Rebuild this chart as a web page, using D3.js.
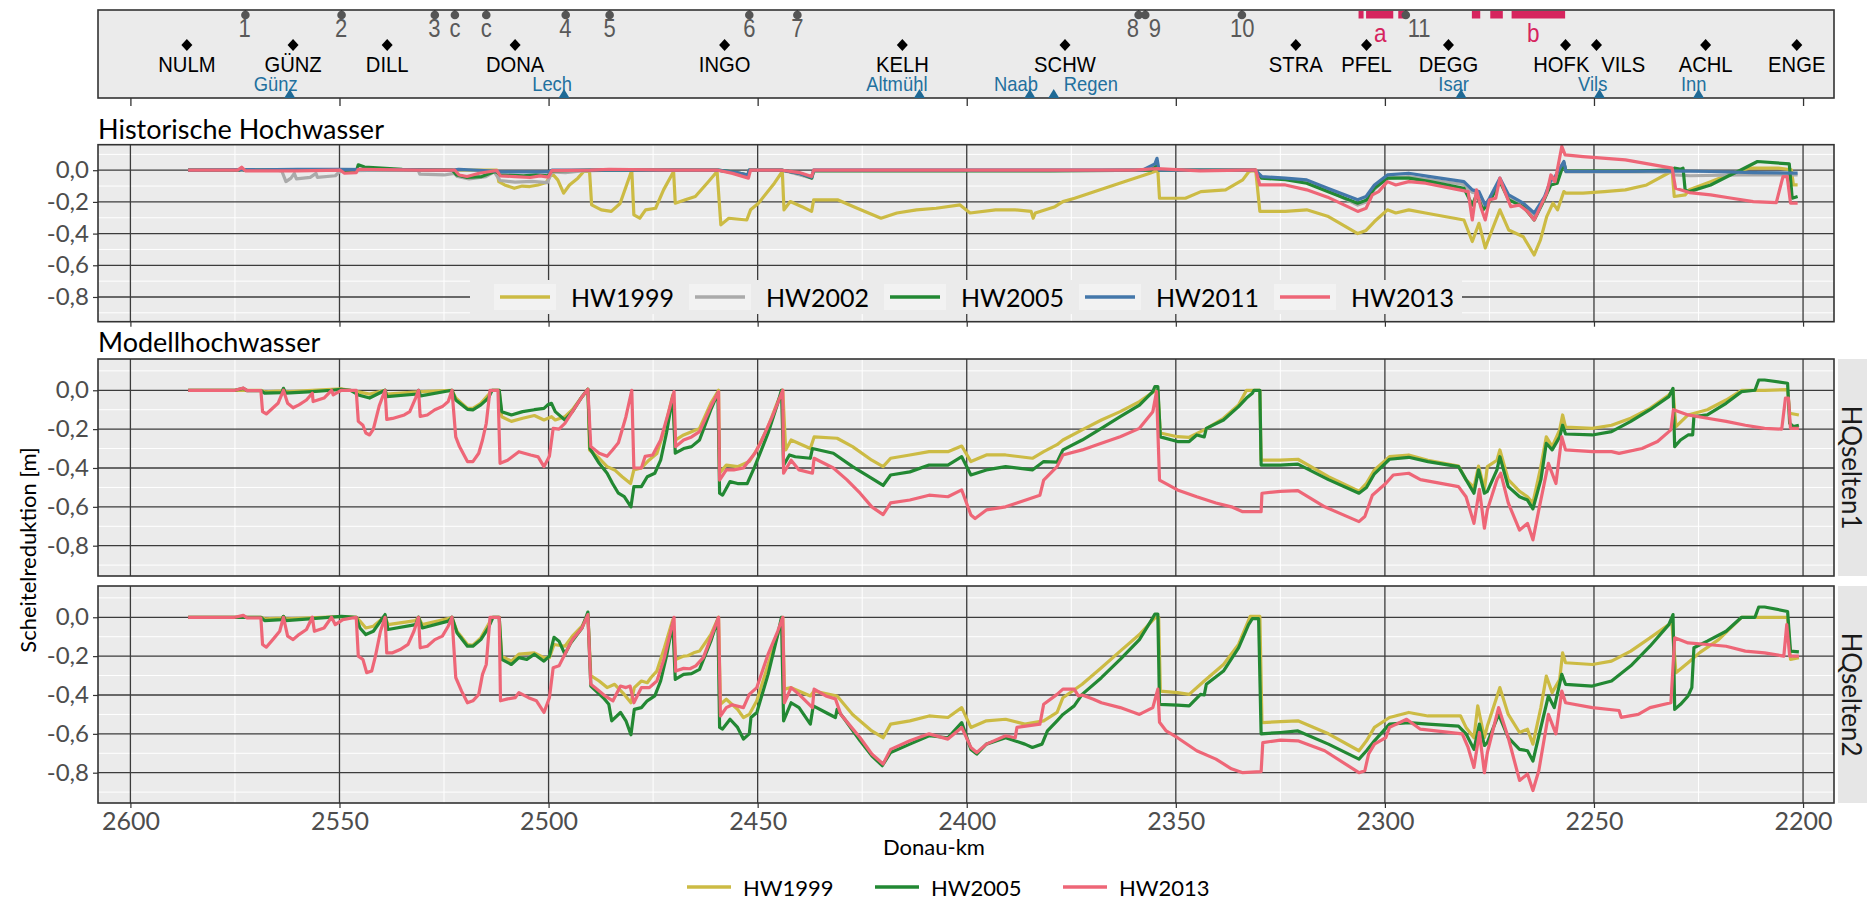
<!DOCTYPE html>
<html><head><meta charset="utf-8">
<script src="https://cdn.jsdelivr.net/npm/d3@7"></script>
<style>body{margin:0;background:#fff}svg{display:block}</style>
</head><body>
<svg id="c" width="1867" height="910"></svg>
<script>
// ---------------- DATA ----------------
const seriesNames = ["HW1999","HW2002","HW2005","HW2011","HW2013"];
const seriesColors = ["#CCBB44","#AAAAAA","#228833","#4477AA","#EE6677"];
const xTicks = [2600,2550,2500,2450,2400,2350,2300,2250,2200];
const xMinor = [2575,2525,2475,2425,2375,2325,2275,2225];
const yTicks = [0,-0.2,-0.4,-0.6,-0.8];
const yMinor = [0.1,-0.1,-0.3,-0.5,-0.7,-0.9];
const facetLabels = ["HQselten1","HQselten2"];

const stationNames = ["NULM","GÜNZ","DILL","DONA","INGO","KELH","SCHW","STRA","PFEL","DEGG","HOFK","VILS","ACHL","ENGE"];
const stationKm = [2586.5,2561.1,2538.6,2508.0,2457.9,2415.4,2376.5,2321.3,2304.4,2284.8,2256.8,2249.4,2223.3,2201.5];
const stationLabelKm = [2586.5,2561.1,2538.6,2508.0,2457.9,2415.4,2376.5,2321.3,2304.4,2284.8,2257.8,2243.0,2223.3,2201.5];
const tribNames = ["Günz","Lech","Altmühl","Naab","Regen","Isar","Vils","Inn"];
const tribKm = [2561.9,2496.3,2411.3,2384.9,2379.2,2281.8,2248.7,2225.0];
const tribSide = ["l","l","l","l","r","l","l","l"];
const markLabels = ["1","2","3","c","c","4","5","6","7","8","9","10","11"];
const markKm = [2572.5,2549.5,2527.2,2522.4,2514.9,2495.9,2485.4,2452.0,2440.5,2358.9,2357.3,2334.2,2295.0];
const markLabelKm = [2572.7,2549.6,2527.3,2522.4,2514.9,2496.0,2485.4,2452.0,2440.5,2360.3,2355.0,2334.1,2291.8];
const zoneLabels = ["a","b"];
const zoneLabelKm = [2301.1,2264.5];
const zoneA = [[2306.3,2305.1],[2304.5,2298.0],[2296.8,2294.9]];
const zoneB = [[2279.2,2277.2],[2274.8,2271.8],[2269.7,2256.9]];

// Historische Hochwasser
const h1999 = [[2586.2,0],[2512.4,0],[2511.9,-0.072],[2510.5,-0.093],[2508.2,-0.114],[2506.3,-0.1],[2504.5,-0.103],[2502.5,-0.093],[2500.6,-0.078],[2499.2,-0.02],[2497.8,-0.061],[2496.4,-0.145],[2495.0,-0.093],[2493.0,-0.05],[2491.6,-0.008],[2490.2,-0.008],[2489.7,-0.219],[2487.4,-0.25],[2485.0,-0.26],[2482.9,-0.21],[2480.5,-0.03],[2480.1,0],[2479.6,-0.282],[2478.2,-0.303],[2476.8,-0.25],[2474.4,-0.24],[2472.5,-0.124],[2470.1,-0.008],[2469.7,-0.208],[2467.3,-0.187],[2464.9,-0.166],[2462.1,-0.082],[2459.7,-0.008],[2458.8,-0.345],[2456.9,-0.303],[2452.6,-0.314],[2451.7,-0.25],[2449.8,-0.208],[2446.0,-0.082],[2444.1,-0.008],[2443.7,-0.25],[2442.2,-0.198],[2439.4,-0.23],[2437.1,-0.26],[2436.6,-0.187],[2430.9,-0.187],[2426.2,-0.24],[2420.5,-0.303],[2416.7,-0.27],[2412.0,-0.25],[2407.3,-0.24],[2401.6,-0.219],[2399.2,-0.27],[2393.1,-0.25],[2388.4,-0.25],[2384.6,-0.26],[2384.1,-0.303],[2383.6,-0.27],[2378.9,-0.23],[2377.0,-0.198],[2374.2,-0.177],[2364.7,-0.093],[2356.2,-0.019],[2354.3,0],[2353.9,-0.177],[2347.7,-0.177],[2344.0,-0.135],[2338.1,-0.124],[2334.0,-0.061],[2332.5,-0.008],[2330.9,0],[2329.9,-0.26],[2323.8,-0.26],[2318.7,-0.25],[2313.7,-0.29],[2306.5,-0.4],[2304.5,-0.38],[2302.5,-0.324],[2299.4,-0.25],[2297.4,-0.27],[2294.3,-0.25],[2290.3,-0.27],[2281.1,-0.314],[2279.1,-0.45],[2277.5,-0.335],[2276.0,-0.49],[2275.0,-0.42],[2272.5,-0.25],[2270.4,-0.377],[2266.9,-0.42],[2264.3,-0.535],[2262.8,-0.44],[2261.3,-0.293],[2259.8,-0.208],[2258.7,-0.25],[2257.2,-0.135],[2256.7,-0.145],[2252.6,-0.145],[2247.5,-0.135],[2242.5,-0.124],[2237.4,-0.093],[2232.3,-0.019],[2231.3,-0.008],[2230.8,-0.166],[2228.2,-0.156],[2227.2,-0.124],[2222.1,-0.072],[2217.0,-0.019],[2212.9,0.013],[2205.9,0.013],[2202.8,0.003],[2202.3,-0.093],[2201.3,-0.093]];
const h2002 = [[2586.2,0],[2565,0],[2563.8,-0.005],[2562.8,-0.072],[2561.6,-0.05],[2560.8,-0.02],[2560.3,-0.055],[2557,-0.045],[2555.6,-0.02],[2555.3,-0.045],[2551,-0.035],[2549.8,-0.005],[2540,0],[2531.2,0],[2530.8,-0.025],[2525,-0.03],[2522.5,-0.02],[2521.8,-0.04],[2519,-0.055],[2515,-0.04],[2513,-0.01],[2511.6,-0.065],[2508,-0.075],[2504,-0.07],[2500.3,-0.078],[2499.2,-0.01],[2496,-0.015],[2492,-0.005],[2485,0],[2459.5,0],[2452.5,-0.03],[2452,0],[2444,0],[2437,-0.05],[2436.6,0],[2356,0],[2354.5,0.05],[2354,0],[2331,0],[2329.5,-0.045],[2323.8,-0.055],[2318.7,-0.07],[2313.7,-0.125],[2306.5,-0.22],[2304.5,-0.2],[2302.5,-0.12],[2299.4,-0.05],[2294.3,-0.04],[2289.2,-0.06],[2281.1,-0.09],[2279.1,-0.14],[2277.5,-0.145],[2276,-0.23],[2275,-0.19],[2272.5,-0.06],[2270.4,-0.17],[2266.9,-0.22],[2264.3,-0.29],[2261.8,-0.18],[2260.3,-0.07],[2259.3,-0.06],[2257.2,0.05],[2256.7,-0.01],[2242,-0.01],[2231.3,-0.01],[2230.8,-0.03],[2227,-0.035],[2215,-0.03],[2205,-0.03],[2201.3,-0.03]];
const h2005 = [[2586.2,0],[2574,0],[2573.5,0.01],[2572.8,0],[2550,0],[2546,-0.01],[2545.5,0.034],[2544,0.02],[2535,0.005],[2523,0],[2522,-0.03],[2519.5,-0.045],[2516,-0.04],[2513,-0.01],[2512.5,-0.01],[2511.5,-0.03],[2506,-0.035],[2503,-0.03],[2500.2,-0.035],[2499.2,-0.005],[2490,0],[2459.5,0],[2456,-0.01],[2452.3,-0.03],[2452,0],[2444.1,0],[2440,-0.02],[2437.1,-0.05],[2436.6,-0.005],[2380,-0.005],[2356,0],[2354.6,0.025],[2353.9,0],[2331,0],[2329.5,-0.05],[2323.8,-0.06],[2318.7,-0.082],[2313.7,-0.135],[2306.5,-0.208],[2304.5,-0.19],[2302.5,-0.114],[2299.4,-0.05],[2294.3,-0.05],[2289.2,-0.072],[2281.1,-0.114],[2279.1,-0.22],[2278.1,-0.156],[2276.5,-0.25],[2275,-0.2],[2272.5,-0.072],[2270.4,-0.187],[2266.9,-0.23],[2264.3,-0.314],[2262.3,-0.208],[2260.3,-0.093],[2258.8,-0.082],[2257.2,0.044],[2256.7,-0.005],[2240,-0.005],[2231.3,0.002],[2230.8,0.013],[2229.2,0.006],[2228.7,0.013],[2228.2,-0.124],[2227.2,-0.135],[2222.1,-0.093],[2218.1,-0.04],[2215,0],[2210.9,0.055],[2203.3,0.04],[2202.6,-0.177],[2201.3,-0.166]];
const h2011 = [[2586.2,0],[2560,0.005],[2550,0.005],[2523,0],[2521.5,0.005],[2513,-0.005],[2511.5,-0.01],[2500,-0.01],[2499.2,0],[2459.5,0],[2455,-0.015],[2452.3,-0.03],[2452,0],[2444.1,0],[2440,-0.02],[2437.1,-0.045],[2436.6,0],[2358,0],[2355,0.04],[2354.5,0.075],[2354.1,0.01],[2353.9,0],[2331,0],[2329.4,-0.04],[2323.8,-0.05],[2318.7,-0.061],[2313.7,-0.114],[2306.5,-0.187],[2304.5,-0.166],[2302.5,-0.093],[2299.4,-0.03],[2294.3,-0.019],[2289.2,-0.04],[2281.1,-0.072],[2279.1,-0.124],[2277.5,-0.135],[2276,-0.22],[2275,-0.177],[2272.5,-0.05],[2270.4,-0.156],[2266.9,-0.208],[2264.3,-0.27],[2261.8,-0.166],[2260.3,-0.061],[2259.3,-0.04],[2257.2,0.055],[2256.7,-0.008],[2242.5,-0.008],[2232.3,-0.004],[2222,-0.008],[2211.9,-0.015],[2201.3,-0.019]];
const h2013 = [[2586.2,0],[2574.4,0],[2573.4,0.019],[2572.5,-0.004],[2560,-0.004],[2549.8,0],[2548.8,-0.019],[2546,-0.015],[2545.5,0.006],[2531,0],[2522.4,0],[2521.4,-0.03],[2519.5,-0.04],[2516.6,-0.019],[2512.4,-0.002],[2511.5,-0.036],[2508,-0.04],[2504.4,-0.046],[2502,-0.036],[2500.1,-0.044],[2499.2,-0.002],[2490,0],[2485.5,0.006],[2470,0],[2459.5,0],[2456,-0.02],[2452.2,-0.05],[2451.7,0],[2444.1,0],[2440,-0.015],[2437.1,-0.04],[2436.6,0],[2360,0],[2354.5,0.01],[2344.2,-0.004],[2330.9,0.002],[2329.9,-0.093],[2323.8,-0.093],[2318.7,-0.124],[2313.7,-0.17],[2306.5,-0.26],[2304.5,-0.24],[2303.0,-0.156],[2301.5,-0.135],[2299.4,-0.072],[2297.4,-0.093],[2294.3,-0.072],[2290.3,-0.082],[2280.1,-0.135],[2279.1,-0.314],[2278.1,-0.124],[2277.1,-0.23],[2276.0,-0.314],[2275.0,-0.187],[2273.5,-0.177],[2272.5,-0.05],[2271.5,-0.124],[2269.9,-0.23],[2267.9,-0.22],[2265.9,-0.26],[2264.3,-0.314],[2262.8,-0.23],[2261.3,-0.145],[2260.3,-0.03],[2259.3,-0.072],[2257.7,0.15],[2256.9,0.097],[2252.6,0.086],[2242.5,0.065],[2231.3,0.013],[2230.5,-0.114],[2227.2,-0.141],[2222.1,-0.156],[2217.0,-0.177],[2211.9,-0.198],[2206.4,-0.204],[2204.8,-0.04],[2203.8,-0.04],[2203.0,-0.208],[2201.3,-0.208]];

// Modellhochwasser HQselten1
const s1_1999 = [[2586.2,0],[2568.8,0],[2567.9,-0.008],[2563.8,-0.003],[2563.4,0.005],[2562.9,-0.008],[2556.5,0],[2549.6,0.007],[2545.5,-0.008],[2542.8,-0.02],[2539.1,0],[2538.7,-0.02],[2531.3,-0.008],[2523.1,0],[2522.2,-0.04],[2519.4,-0.093],[2518.1,-0.093],[2516.2,-0.067],[2514.4,-0.024],[2513.5,0],[2511.8,0],[2511.2,-0.136],[2508.9,-0.16],[2506.2,-0.144],[2503.4,-0.13],[2501.1,-0.153],[2499.3,-0.136],[2498.4,-0.153],[2496.1,-0.136],[2494.3,-0.1],[2492,-0.033],[2490.6,0.005],[2490.2,-0.307],[2487.9,-0.35],[2486,-0.393],[2484.2,-0.41],[2482.4,-0.445],[2480.4,-0.48],[2479.6,-0.41],[2477.8,-0.4],[2476,-0.36],[2474.1,-0.325],[2472.3,-0.204],[2470.3,-0.024],[2469.7,-0.256],[2467.7,-0.23],[2465.8,-0.213],[2463.9,-0.196],[2461.2,-0.067],[2459.35,0],[2459.1,-0.427],[2457.5,-0.385],[2454.8,-0.393],[2452,-0.367],[2450.2,-0.307],[2447.5,-0.187],[2445.2,-0.058],[2444,0],[2443.3,-0.307],[2442,-0.256],[2437.4,-0.3],[2436.5,-0.24],[2431,-0.247],[2427.3,-0.29],[2422.7,-0.36],[2420,-0.393],[2418.2,-0.35],[2413.6,-0.333],[2409,-0.316],[2404.5,-0.316],[2401.2,-0.287],[2399,-0.367],[2395.3,-0.333],[2390.7,-0.333],[2384.3,-0.35],[2381.6,-0.316],[2378.4,-0.28],[2377,-0.256],[2372.4,-0.204],[2367.8,-0.153],[2363.3,-0.11],[2358.7,-0.058],[2355,-0.003],[2354.3,0],[2353.7,-0.22],[2349.6,-0.239],[2346.8,-0.242],[2343.2,-0.204],[2338.6,-0.144],[2335,-0.076],[2333.1,0],[2329.9,0],[2329.6,-0.36],[2325,-0.36],[2320.8,-0.355],[2313.5,-0.445],[2306.2,-0.52],[2304.4,-0.479],[2302.5,-0.41],[2298.9,-0.342],[2294.3,-0.333],[2289.7,-0.36],[2282.4,-0.39],[2280.6,-0.46],[2278.7,-0.5],[2277.6,-0.39],[2276.2,-0.51],[2275.5,-0.393],[2273.2,-0.36],[2272.5,-0.307],[2270.5,-0.46],[2267.8,-0.52],[2265.9,-0.548],[2264.6,-0.58],[2262.7,-0.393],[2261.4,-0.24],[2260,-0.29],[2258.2,-0.204],[2257.5,-0.127],[2256.8,-0.19],[2250.4,-0.196],[2245.8,-0.18],[2241.2,-0.144],[2236.6,-0.093],[2232.1,-0.024],[2231.1,0],[2230.4,-0.187],[2227.5,-0.127],[2222.9,-0.1],[2218.4,-0.05],[2214.7,0],[2209.2,0],[2203.7,0.003],[2203.2,-0.118],[2201,-0.127]];
const s1_2005 = [[2586.2,0],[2575,0],[2573,0.01],[2572.1,-0.002],[2568.8,-0.002],[2567.9,-0.015],[2563.8,-0.012],[2563.4,0.01],[2562.9,-0.015],[2556.5,-0.007],[2551.9,0],[2549.6,0.005],[2547.3,0],[2545.5,-0.024],[2542.8,-0.04],[2539.1,0],[2538.7,-0.033],[2531.3,-0.019],[2531.1,0],[2530.6,-0.029],[2523.1,0],[2522.2,-0.05],[2519.4,-0.098],[2518.1,-0.101],[2516.2,-0.075],[2514.4,-0.04],[2513.5,0],[2511.8,0],[2511.2,-0.11],[2508.9,-0.127],[2506.2,-0.11],[2503.4,-0.1],[2501.1,-0.093],[2500.2,-0.075],[2499.3,-0.067],[2498.4,-0.11],[2496.1,-0.153],[2494.3,-0.11],[2492,-0.033],[2490.6,0.005],[2490.1,-0.3],[2487.9,-0.376],[2486,-0.427],[2484.7,-0.48],[2483.3,-0.53],[2481.9,-0.548],[2480.3,-0.6],[2479.6,-0.496],[2477.8,-0.496],[2476.4,-0.445],[2474.6,-0.427],[2473.2,-0.36],[2471.8,-0.22],[2470.3,-0.033],[2469.7,-0.324],[2467.7,-0.3],[2465.8,-0.29],[2463.9,-0.256],[2461.2,-0.1],[2459.5,-0.015],[2459.1,-0.53],[2458.4,-0.54],[2456.6,-0.47],[2454.8,-0.48],[2452.5,-0.48],[2450.7,-0.393],[2447.5,-0.22],[2445.2,-0.067],[2444.3,0],[2443.8,-0.386],[2442.4,-0.333],[2441,-0.342],[2437.4,-0.35],[2436.9,-0.3],[2431.9,-0.324],[2427.3,-0.393],[2422.7,-0.453],[2420,-0.49],[2418.2,-0.436],[2413.6,-0.42],[2409,-0.385],[2404.5,-0.385],[2401.2,-0.342],[2399,-0.436],[2395.3,-0.41],[2390.7,-0.393],[2384.3,-0.41],[2381.6,-0.367],[2378.4,-0.37],[2377,-0.307],[2372.4,-0.256],[2367.8,-0.196],[2363.3,-0.136],[2358.7,-0.076],[2355.5,-0.007],[2355,0.019],[2354.3,0.019],[2353.7,-0.24],[2349.6,-0.264],[2346.8,-0.264],[2345,-0.23],[2343.2,-0.24],[2342.7,-0.196],[2338.6,-0.153],[2335,-0.084],[2333.1,-0.04],[2331.7,-0.015],[2331.3,0],[2329.9,0],[2329.6,-0.385],[2325,-0.385],[2320.8,-0.38],[2313.5,-0.46],[2306.2,-0.53],[2304.4,-0.5],[2302.5,-0.43],[2298.9,-0.355],[2294.3,-0.345],[2289.7,-0.367],[2282.4,-0.393],[2280.6,-0.46],[2278.7,-0.53],[2277.6,-0.41],[2276.2,-0.53],[2275.5,-0.52],[2273.2,-0.41],[2272.5,-0.342],[2270.5,-0.496],[2267.8,-0.548],[2265.9,-0.565],[2264.6,-0.61],[2262.7,-0.46],[2261.4,-0.273],[2260,-0.307],[2258.2,-0.24],[2257.5,-0.18],[2256.8,-0.225],[2250.4,-0.23],[2245.8,-0.213],[2241.2,-0.16],[2236.6,-0.1],[2232.1,-0.033],[2231.1,0.01],[2230.7,-0.29],[2229.3,-0.256],[2227.5,-0.23],[2226.4,-0.23],[2226.1,-0.136],[2222.9,-0.127],[2218.4,-0.067],[2214.7,-0.007],[2211.5,0],[2210.6,0.053],[2209.2,0.053],[2203.7,0.036],[2203.2,-0.17],[2202.3,-0.187],[2201,-0.18]];
const s1_2013 = [[2586.2,0],[2575,0],[2573,0.012],[2572.1,-0.002],[2568.8,-0.002],[2568.4,-0.11],[2567.5,-0.122],[2564.7,-0.067],[2563.4,0],[2562.4,-0.067],[2561.1,-0.09],[2559.7,-0.075],[2557.9,-0.05],[2556.5,-0.015],[2556.3,-0.058],[2553.7,-0.04],[2551.9,0],[2551.5,-0.024],[2549.6,0],[2546,0],[2545.5,-0.16],[2544.4,-0.18],[2543.7,-0.22],[2542.8,-0.23],[2541.9,-0.2],[2540.5,-0.08],[2539.1,0],[2538.7,-0.15],[2537.3,-0.145],[2534.5,-0.127],[2533.2,-0.11],[2531.8,-0.04],[2531.1,0],[2530.7,-0.135],[2529,-0.127],[2527.2,-0.1],[2525.4,-0.084],[2524,-0.058],[2523.1,0],[2522.2,-0.24],[2521.3,-0.29],[2519.4,-0.367],[2518.1,-0.367],[2516.7,-0.324],[2515.8,-0.256],[2514.9,-0.17],[2514,0],[2512.1,0],[2511.6,-0.376],[2509.8,-0.36],[2507.1,-0.316],[2504.3,-0.333],[2502.5,-0.343],[2501.1,-0.393],[2499.8,-0.34],[2498.9,-0.196],[2497.5,-0.2],[2496.1,-0.17],[2494.3,-0.11],[2492,-0.033],[2490.6,0.005],[2489.9,-0.29],[2487.9,-0.324],[2486,-0.34],[2484.7,-0.307],[2483.3,-0.27],[2481.5,-0.136],[2480.1,0],[2479.6,-0.4],[2477.8,-0.4],[2476.9,-0.34],[2475.1,-0.333],[2473.2,-0.256],[2471.4,-0.12],[2470,-0.007],[2469.6,-0.29],[2467.7,-0.256],[2465.8,-0.24],[2463.9,-0.213],[2461.2,-0.084],[2459.35,-0.007],[2459.1,-0.462],[2457.5,-0.41],[2455.7,-0.41],[2453.4,-0.4],[2452,-0.36],[2450.7,-0.325],[2449.3,-0.27],[2446.5,-0.136],[2444,0],[2443.8,-0.427],[2442,-0.36],[2440.1,-0.41],[2436.9,-0.427],[2436.5,-0.35],[2431.9,-0.4],[2428.7,-0.46],[2425.5,-0.53],[2422.7,-0.6],[2420,-0.64],[2418.2,-0.58],[2413.6,-0.565],[2409,-0.54],[2404.5,-0.548],[2401.2,-0.513],[2399,-0.642],[2398,-0.66],[2395.3,-0.616],[2390.7,-0.6],[2388,-0.58],[2382.5,-0.54],[2381.6,-0.462],[2378.4,-0.393],[2377,-0.333],[2372.4,-0.307],[2367.8,-0.273],[2363.3,-0.239],[2358.7,-0.196],[2355.5,-0.11],[2354.6,-0.007],[2353.9,-0.462],[2349.6,-0.513],[2345,-0.548],[2340.4,-0.58],[2336.7,-0.6],[2334,-0.625],[2329.6,-0.625],[2329.4,-0.53],[2325,-0.52],[2320.8,-0.517],[2314.4,-0.6],[2306.2,-0.676],[2304.8,-0.65],[2303,-0.54],[2299.8,-0.48],[2298,-0.436],[2294.3,-0.427],[2291.5,-0.46],[2282.4,-0.496],[2280.6,-0.548],[2278.7,-0.685],[2277.4,-0.51],[2276.2,-0.71],[2275.5,-0.616],[2273.2,-0.46],[2272.3,-0.427],[2270.5,-0.58],[2267.8,-0.72],[2265.9,-0.685],[2264.6,-0.77],[2263.2,-0.616],[2260.9,-0.376],[2259.1,-0.48],[2257.7,-0.24],[2256.8,-0.307],[2250.4,-0.316],[2245.8,-0.316],[2244,-0.325],[2238.5,-0.3],[2234.8,-0.264],[2231.6,-0.204],[2231,-0.1],[2227.5,-0.127],[2222.9,-0.144],[2218.4,-0.16],[2213.8,-0.18],[2209.2,-0.196],[2205.1,-0.2],[2204.2,-0.04],[2203.5,-0.04],[2203,-0.196],[2201,-0.196]];

// Modellhochwasser HQselten2
const s2_1999 = [[2586.2,0],[2568.8,0],[2567.9,-0.008],[2563.8,-0.004],[2563.4,0.004],[2562.9,-0.008],[2549.6,0.004],[2546,0],[2545.1,-0.02],[2543.7,-0.055],[2541.9,-0.046],[2539.1,0.005],[2538.4,-0.038],[2531.8,-0.017],[2531.1,0],[2530.2,-0.038],[2524,-0.007],[2523.1,0],[2521.9,-0.072],[2519.4,-0.14],[2518.1,-0.144],[2516.2,-0.106],[2514.4,-0.038],[2513.5,0],[2511.8,0],[2511.2,-0.2],[2508.9,-0.226],[2507.1,-0.19],[2503.4,-0.183],[2501.1,-0.208],[2499.8,-0.208],[2498.7,-0.14],[2496.1,-0.149],[2494.3,-0.097],[2492,-0.046],[2490.6,0.014],[2489.9,-0.3],[2487.9,-0.328],[2486,-0.362],[2484.2,-0.345],[2481.9,-0.397],[2480.3,-0.44],[2479.5,-0.362],[2477.8,-0.328],[2476.4,-0.337],[2475.5,-0.31],[2474.1,-0.277],[2472.3,-0.157],[2470.3,-0.012],[2469.6,-0.217],[2467.7,-0.2],[2466.7,-0.198],[2465.3,-0.183],[2463.9,-0.174],[2461.2,-0.089],[2459.35,0],[2458.9,-0.448],[2457.5,-0.422],[2454.8,-0.474],[2453.4,-0.516],[2452,-0.5],[2450.2,-0.43],[2447.5,-0.243],[2445.2,-0.089],[2444,0],[2443.6,-0.37],[2442,-0.362],[2437.4,-0.405],[2436.5,-0.38],[2431,-0.405],[2427.3,-0.5],[2422.7,-0.585],[2420,-0.62],[2418.2,-0.55],[2413.6,-0.533],[2409,-0.508],[2404.5,-0.516],[2401.2,-0.465],[2399,-0.567],[2395.3,-0.533],[2390.7,-0.525],[2386.1,-0.55],[2381.6,-0.533],[2378.4,-0.49],[2377,-0.414],[2372.4,-0.345],[2367.8,-0.26],[2363.3,-0.174],[2358.7,-0.089],[2355,-0.003],[2354.1,0],[2353.7,-0.38],[2349.6,-0.388],[2346.8,-0.397],[2343.2,-0.328],[2338.6,-0.243],[2335,-0.14],[2332.2,0.005],[2329.9,0.005],[2329.4,-0.542],[2325,-0.537],[2320.8,-0.533],[2313.5,-0.6],[2306.2,-0.687],[2304.4,-0.636],[2302.5,-0.567],[2298.9,-0.516],[2294.3,-0.49],[2289.7,-0.508],[2281.9,-0.508],[2280.6,-0.567],[2278.7,-0.62],[2277.8,-0.456],[2276.2,-0.62],[2275.5,-0.56],[2272.5,-0.362],[2270.5,-0.5],[2267.8,-0.593],[2265.9,-0.576],[2264.6,-0.653],[2262.7,-0.465],[2261.4,-0.303],[2260,-0.388],[2258.2,-0.32],[2257.5,-0.183],[2256.8,-0.234],[2250.4,-0.243],[2245.8,-0.226],[2241.2,-0.174],[2236.6,-0.106],[2232.1,-0.038],[2231.4,-0.02],[2230.4,-0.285],[2227.5,-0.234],[2224.8,-0.183],[2220.2,-0.115],[2214.7,0],[2203.7,0],[2203,-0.217],[2201,-0.208]];
const s2_2005 = [[2586.2,0],[2568.8,0],[2567.9,-0.017],[2563.8,-0.012],[2563.4,0.005],[2562.9,-0.017],[2556.5,-0.007],[2549.6,0.005],[2546,0],[2545.1,-0.055],[2543.7,-0.089],[2541.9,-0.072],[2539.1,0.014],[2538.4,-0.063],[2531.8,-0.038],[2531.1,0],[2530.2,-0.055],[2524,-0.02],[2523.1,0],[2521.9,-0.08],[2519.4,-0.149],[2518.1,-0.149],[2516.2,-0.115],[2514.4,-0.055],[2513.3,0],[2511.8,0],[2511.2,-0.217],[2508.9,-0.243],[2507.1,-0.208],[2505.2,-0.217],[2503.4,-0.19],[2501.1,-0.226],[2499.8,-0.2],[2498.7,-0.103],[2497.5,-0.123],[2496.1,-0.19],[2494.7,-0.132],[2492,-0.055],[2490.6,0.027],[2489.9,-0.354],[2486.9,-0.414],[2485.6,-0.448],[2484.9,-0.533],[2482.8,-0.49],[2481.5,-0.533],[2480.3,-0.605],[2479.5,-0.474],[2477.8,-0.465],[2476.4,-0.43],[2474.6,-0.405],[2473.2,-0.328],[2471.8,-0.2],[2470.3,-0.03],[2469.7,-0.32],[2467.7,-0.294],[2465.8,-0.29],[2463.9,-0.268],[2461.2,-0.123],[2459.5,-0.012],[2459.1,-0.567],[2458.4,-0.575],[2456.6,-0.525],[2454.8,-0.567],[2453.4,-0.627],[2452,-0.6],[2451.6,-0.516],[2450.2,-0.49],[2447.5,-0.294],[2445.2,-0.089],[2444.3,0],[2443.8,-0.533],[2442,-0.44],[2440.1,-0.465],[2437.4,-0.55],[2436.7,-0.456],[2433.7,-0.49],[2431.4,-0.516],[2431,-0.474],[2429.2,-0.525],[2425.5,-0.636],[2422.7,-0.713],[2420.2,-0.764],[2418.2,-0.696],[2413.6,-0.653],[2409,-0.61],[2404.5,-0.62],[2401.2,-0.542],[2399,-0.68],[2397.6,-0.704],[2395.3,-0.653],[2390.7,-0.62],[2386.1,-0.653],[2384.3,-0.67],[2382,-0.653],[2380.7,-0.585],[2378.4,-0.533],[2377,-0.5],[2374.3,-0.456],[2372.4,-0.397],[2367.8,-0.311],[2363.3,-0.217],[2358.7,-0.115],[2355.5,-0.003],[2355,0.017],[2354.3,0.017],[2353.9,-0.448],[2349.6,-0.452],[2346.8,-0.456],[2344.1,-0.397],[2343.2,-0.4],[2342.7,-0.345],[2338.6,-0.277],[2335,-0.157],[2332.6,-0.038],[2331.7,-0.007],[2330.2,-0.007],[2329.6,-0.6],[2325,-0.593],[2320.8,-0.585],[2313.5,-0.653],[2306.2,-0.73],[2304.4,-0.687],[2302.5,-0.636],[2298.9,-0.55],[2294.3,-0.542],[2289.7,-0.55],[2282.4,-0.56],[2280.6,-0.6],[2278.7,-0.68],[2277.4,-0.55],[2276.2,-0.66],[2275.5,-0.645],[2272.8,-0.5],[2270.5,-0.62],[2267.8,-0.68],[2265.9,-0.687],[2264.6,-0.74],[2262.7,-0.567],[2260.9,-0.405],[2259.5,-0.465],[2257.7,-0.294],[2256.8,-0.345],[2250.4,-0.354],[2245.8,-0.328],[2241.2,-0.25],[2236.6,-0.149],[2232.1,-0.038],[2231.1,0.014],[2230.7,-0.474],[2229.3,-0.448],[2227.5,-0.405],[2226.6,-0.362],[2226.1,-0.157],[2222.9,-0.123],[2218.4,-0.072],[2214.7,0],[2211.5,0],[2210.6,0.053],[2209.2,0.053],[2203.7,0.03],[2203,-0.174],[2201,-0.178]];
const s2_2013 = [[2586.2,0],[2575,0],[2573,0.01],[2572.1,-0.003],[2568.8,-0.003],[2568.4,-0.14],[2567.5,-0.154],[2565.6,-0.106],[2564.3,-0.072],[2563.4,0],[2562.4,-0.097],[2561.1,-0.115],[2559.7,-0.089],[2557.9,-0.063],[2556.5,0],[2556,-0.072],[2553.7,-0.055],[2551.9,0],[2551,-0.038],[2549.2,-0.012],[2546,0],[2545.5,-0.2],[2544.4,-0.217],[2543.5,-0.285],[2542.3,-0.277],[2541.4,-0.2],[2540.2,-0.072],[2539.1,0],[2538.7,-0.183],[2537.3,-0.183],[2535.5,-0.166],[2533.6,-0.14],[2532.2,-0.072],[2531.1,0],[2530.7,-0.157],[2529,-0.149],[2527.2,-0.115],[2525.4,-0.097],[2524,-0.046],[2523.1,0],[2522.2,-0.31],[2520.8,-0.38],[2519.4,-0.44],[2518.1,-0.43],[2516.7,-0.397],[2515.8,-0.294],[2514.9,-0.243],[2514,0],[2511.8,0],[2511.5,-0.43],[2509.8,-0.42],[2508,-0.414],[2507.1,-0.388],[2504.8,-0.414],[2502.9,-0.43],[2501.1,-0.49],[2499.8,-0.414],[2498.9,-0.26],[2497.5,-0.25],[2496.1,-0.19],[2494.3,-0.115],[2492,-0.055],[2490.6,0.014],[2489.9,-0.345],[2487.9,-0.38],[2486.5,-0.405],[2484.6,-0.43],[2482.8,-0.354],[2481.5,-0.362],[2480.5,-0.354],[2479.6,-0.44],[2477.8,-0.362],[2475.9,-0.362],[2474.1,-0.328],[2472.3,-0.208],[2470,0],[2469.6,-0.277],[2467.7,-0.263],[2466.2,-0.265],[2464.8,-0.25],[2463,-0.208],[2461.2,-0.106],[2459.35,0],[2458.9,-0.508],[2457.5,-0.465],[2456.1,-0.45],[2453.4,-0.465],[2452,-0.397],[2450.2,-0.362],[2447.5,-0.19],[2445.2,-0.072],[2444,0],[2443.6,-0.44],[2442,-0.362],[2440.1,-0.397],[2436.9,-0.465],[2436.5,-0.37],[2433.7,-0.405],[2431.4,-0.42],[2430.1,-0.5],[2428.2,-0.55],[2425.5,-0.62],[2422.7,-0.704],[2420,-0.755],[2418.2,-0.68],[2413.6,-0.636],[2409,-0.6],[2404.5,-0.627],[2401.2,-0.567],[2399,-0.67],[2397.6,-0.696],[2395.3,-0.653],[2390.7,-0.61],[2388.4,-0.62],[2388,-0.567],[2382.5,-0.55],[2381.6,-0.448],[2378.4,-0.397],[2377,-0.37],[2374.3,-0.37],[2373.3,-0.405],[2372.4,-0.4],[2369.7,-0.422],[2367.8,-0.44],[2363.3,-0.465],[2358.7,-0.5],[2355.5,-0.465],[2354.3,-0.37],[2353.9,-0.54],[2352.3,-0.585],[2349.6,-0.62],[2345,-0.687],[2340.4,-0.73],[2336.7,-0.78],[2334,-0.8],[2329.6,-0.795],[2329.2,-0.645],[2325,-0.632],[2320.8,-0.636],[2314.4,-0.687],[2306.2,-0.8],[2304.8,-0.79],[2303.9,-0.704],[2302.5,-0.653],[2299.8,-0.62],[2298.9,-0.567],[2294.8,-0.525],[2291.5,-0.576],[2281.5,-0.6],[2280.1,-0.67],[2278.7,-0.773],[2277.4,-0.593],[2276.2,-0.8],[2275.5,-0.696],[2272.8,-0.465],[2270.5,-0.62],[2267.8,-0.84],[2265.9,-0.807],[2264.6,-0.892],[2263.2,-0.79],[2260.9,-0.5],[2259.1,-0.6],[2257.7,-0.38],[2256.8,-0.44],[2250.4,-0.465],[2244,-0.48],[2243.5,-0.515],[2239.4,-0.5],[2236.6,-0.465],[2231.6,-0.44],[2230.7,-0.106],[2227.5,-0.132],[2222.9,-0.14],[2218.4,-0.149],[2213.8,-0.174],[2209.2,-0.183],[2204.6,-0.2],[2203.9,-0.038],[2203.2,-0.2],[2201,-0.2]];

// ---------------- DRAWING ----------------
const FONT = "Lato, 'Open Sans', sans-serif";
const NFONT = "'Liberation Sans', Arial, sans-serif";
const svg = d3.select("#c");
const X0 = 98, X1 = 1834;
const x = d3.scaleLinear().domain([2607.75, 2192.6]).range([X0, X1]);
const yDomain = [-0.956, 0.161];
const fmt = d => (d < 0 ? "-" : "") + Math.abs(d).toFixed(1).replace(".", ",");

const defs = svg.append("defs");

function panel(top, bottom, series, colorIdx, id, opts) {
  const y = d3.scaleLinear().domain(yDomain).range([bottom, top]);
  const g = svg.append("g");
  g.append("rect").attr("x", X0).attr("y", top).attr("width", X1 - X0).attr("height", bottom - top).attr("fill", "#EBEBEB");
  g.selectAll(".vmin").data(xMinor).join("line").attr("x1", d => x(d)).attr("x2", d => x(d)).attr("y1", top).attr("y2", bottom).attr("stroke", "#fff").attr("stroke-width", 1);
  g.selectAll(".hmin").data(yMinor).join("line").attr("x1", X0).attr("x2", X1).attr("y1", d => y(d)).attr("y2", d => y(d)).attr("stroke", "#fff").attr("stroke-width", 1);
  g.selectAll(".vmaj").data(xTicks).join("line").attr("x1", d => x(d)).attr("x2", d => x(d)).attr("y1", top).attr("y2", bottom).attr("stroke", "#3c3c3c").attr("stroke-width", 1.3);
  g.selectAll(".hmaj").data(yTicks).join("line").attr("x1", X0).attr("x2", X1).attr("y1", d => y(d)).attr("y2", d => y(d)).attr("stroke", "#3c3c3c").attr("stroke-width", 1.3);
  defs.append("clipPath").attr("id", id).append("rect").attr("x", X0).attr("y", top).attr("width", X1 - X0).attr("height", bottom - top);
  const line = d3.line().x(d => x(d[0])).y(d => y(d[1]));
  const lg = g.append("g").attr("clip-path", `url(#${id})`);
  series.forEach((s, i) => {
    lg.append("path").attr("d", line(s)).attr("fill", "none").attr("stroke", seriesColors[colorIdx[i]]).attr("stroke-width", 3.2).attr("stroke-linejoin", "round");
  });
  if (opts.legend) opts.legend(g, y);
  g.append("rect").attr("x", X0).attr("y", top).attr("width", X1 - X0).attr("height", bottom - top).attr("fill", "none").attr("stroke", "#333").attr("stroke-width", 1.6);
  const ya = g.append("g").attr("transform", `translate(${X0},0)`).call(d3.axisLeft(y).tickValues(yTicks).tickSize(5).tickPadding(4).tickFormat(fmt));
  ya.select(".domain").remove();
  ya.selectAll("line").attr("stroke", "#333").attr("stroke-width", 1.2);
  ya.selectAll("text").attr("font-family", FONT).attr("font-size", 24).attr("fill", "#4D4D4D");
  if (opts.xticks) {
    const xa = g.append("g").attr("transform", `translate(0,${bottom})`).call(d3.axisBottom(x).tickValues(xTicks).tickSize(5).tickPadding(4).tickFormat(opts.xlabels ? d3.format("d") : ""));
    xa.select(".domain").remove();
    xa.selectAll("line").attr("stroke", "#333").attr("stroke-width", 1.2);
    xa.selectAll("text").attr("font-family", FONT).attr("font-size", 25).attr("fill", "#4D4D4D");
  }
  if (opts.strip) {
    g.append("rect").attr("x", 1838).attr("y", top).attr("width", 29).attr("height", bottom - top).attr("fill", "#E6E6E6");
    g.append("text").attr("transform", `translate(1852,${(top + bottom) / 2}) rotate(90)`).attr("text-anchor", "middle").attr("dominant-baseline", "central")
      .attr("font-family", FONT).attr("font-size", 26).attr("fill", "#1A1A1A").text(opts.strip);
  }
  return y;
}

// ---- top strip ----
const TS0 = 10, TS1 = 98;
svg.append("rect").attr("x", X0).attr("y", TS0).attr("width", X1 - X0).attr("height", TS1 - TS0).attr("fill", "#EBEBEB");
const ta = svg.append("g").attr("transform", `translate(0,${TS1})`).call(d3.axisBottom(x).tickValues(xTicks).tickSize(8).tickFormat(""));
ta.select(".domain").remove();
ta.selectAll("line").attr("stroke", "#333").attr("stroke-width", 1.3);
// red zones
svg.selectAll(".za").data(zoneA.concat(zoneB)).join("rect")
  .attr("x", d => x(d[0])).attr("width", d => x(d[1]) - x(d[0])).attr("y", 11).attr("height", 7.5).attr("fill", "#D6245E");
svg.selectAll(".zl").data(zoneLabels).join("text")
  .attr("transform", (d, i) => `translate(${x(zoneLabelKm[i])},42) scale(0.9,1)`)
  .attr("text-anchor", "middle").attr("font-family", NFONT).attr("font-size", 25).attr("fill", "#D6245E").text(d => d);
// numbered points
svg.selectAll(".mstem").data(markKm).join("line").attr("x1", d => x(d)).attr("x2", d => x(d)).attr("y1", TS0).attr("y2", 15).attr("stroke", "#555").attr("stroke-width", 1.5);
svg.selectAll(".mdot").data(markKm).join("circle").attr("cx", d => x(d)).attr("cy", 15).attr("r", 4.3).attr("fill", "#555");
svg.selectAll(".mlab").data(markLabels).join("text")
  .attr("transform", (d, i) => `translate(${x(markLabelKm[i])},37) scale(0.88,1)`)
  .attr("text-anchor", "middle").attr("font-family", NFONT).attr("font-size", 25).attr("fill", "#595959").text(d => d);
// stations
const diamond = "M0,-6L5.5,0L0,6L-5.5,0Z";
svg.selectAll(".sd").data(stationKm).join("path").attr("d", diamond).attr("transform", d => `translate(${x(d)},45)`).attr("fill", "#000");
svg.selectAll(".sl").data(stationNames).join("text")
  .attr("transform", (d, i) => `translate(${x(stationLabelKm[i])},72) scale(0.92,1)`)
  .attr("text-anchor", "middle").attr("font-family", NFONT).attr("font-size", 22).attr("fill", "#000").text(d => d);
// tributaries
const tri = "M-5.5,0L5.5,0L0,-9Z";
svg.selectAll(".tl").data(tribNames).join("text")
  .attr("transform", (d, i) => `translate(${tribSide[i] === "r" ? x(tribKm[i]) + 10 : x(tribKm[i]) + 8},91) scale(0.92,1)`)
  .attr("text-anchor", (d, i) => tribSide[i] === "r" ? "start" : "end")
  .attr("font-family", NFONT).attr("font-size", 20).attr("fill", "#22709E").text(d => d);
svg.append("rect").attr("x", X0).attr("y", TS0).attr("width", X1 - X0).attr("height", TS1 - TS0).attr("fill", "none").attr("stroke", "#333").attr("stroke-width", 1.6);
svg.selectAll(".tt").data(tribKm).join("path").attr("d", tri).attr("transform", d => `translate(${x(d)},${TS1})`).attr("fill", "#1F6A96");

// ---- panel 1 ----
svg.append("text").attr("x", X0).attr("y", 139).attr("font-family", FONT).attr("font-size", 27).attr("fill", "#000").text("Historische Hochwasser");
panel(144.7, 321.7, [h1999, h2002, h2005, h2011, h2013], [0, 1, 2, 3, 4], "cp1", {
  xticks: true, xlabels: false,
  legend: (g, y) => {
    const lg = g.append("g");
    lg.append("rect").attr("x", 470).attr("y", 280).attr("width", 992).attr("height", 34).attr("fill", "#EBEBEB");
    seriesNames.forEach((n, i) => {
      const kx = 494 + i * 195;
      lg.append("rect").attr("x", kx).attr("y", 284).attr("width", 62).attr("height", 26).attr("fill", "#F2F2F2");
      lg.append("line").attr("x1", kx + 6).attr("x2", kx + 56).attr("y1", 297).attr("y2", 297).attr("stroke", seriesColors[i]).attr("stroke-width", 3.5);
      lg.append("text").attr("x", kx + 77).attr("y", 297).attr("dominant-baseline", "central").attr("font-family", FONT).attr("font-size", 25).attr("fill", "#000").text(n);
    });
  }
});

// ---- panels 2, 3 ----
svg.append("text").attr("x", X0).attr("y", 352).attr("font-family", FONT).attr("font-size", 27).attr("fill", "#000").text("Modellhochwasser");
panel(359, 576, [s1_1999, s1_2005, s1_2013], [0, 2, 4], "cp2", { strip: facetLabels[0] });
panel(586, 803, [s2_1999, s2_2005, s2_2013], [0, 2, 4], "cp3", { strip: facetLabels[1], xticks: true, xlabels: true });

// axis titles
svg.append("text").attr("x", 934).attr("y", 855).attr("text-anchor", "middle").attr("font-family", FONT).attr("font-size", 22).attr("fill", "#000").text("Donau-km");
svg.append("text").attr("transform", "translate(27,550) rotate(-90)").attr("text-anchor", "middle").attr("dominant-baseline", "central").attr("font-family", FONT).attr("font-size", 22).attr("fill", "#000").text("Scheitelreduktion [m]");

// bottom legend
const bottomIdx = [0, 2, 4];
bottomIdx.forEach((si, i) => {
  const kx = 687 + i * 188;
  svg.append("line").attr("x1", kx).attr("x2", kx + 44).attr("y1", 887).attr("y2", 887).attr("stroke", seriesColors[si]).attr("stroke-width", 3.5);
  svg.append("text").attr("x", kx + 56).attr("y", 887).attr("dominant-baseline", "central").attr("font-family", FONT).attr("font-size", 22).attr("fill", "#000").text(seriesNames[si]);
});
</script>
</body></html>
